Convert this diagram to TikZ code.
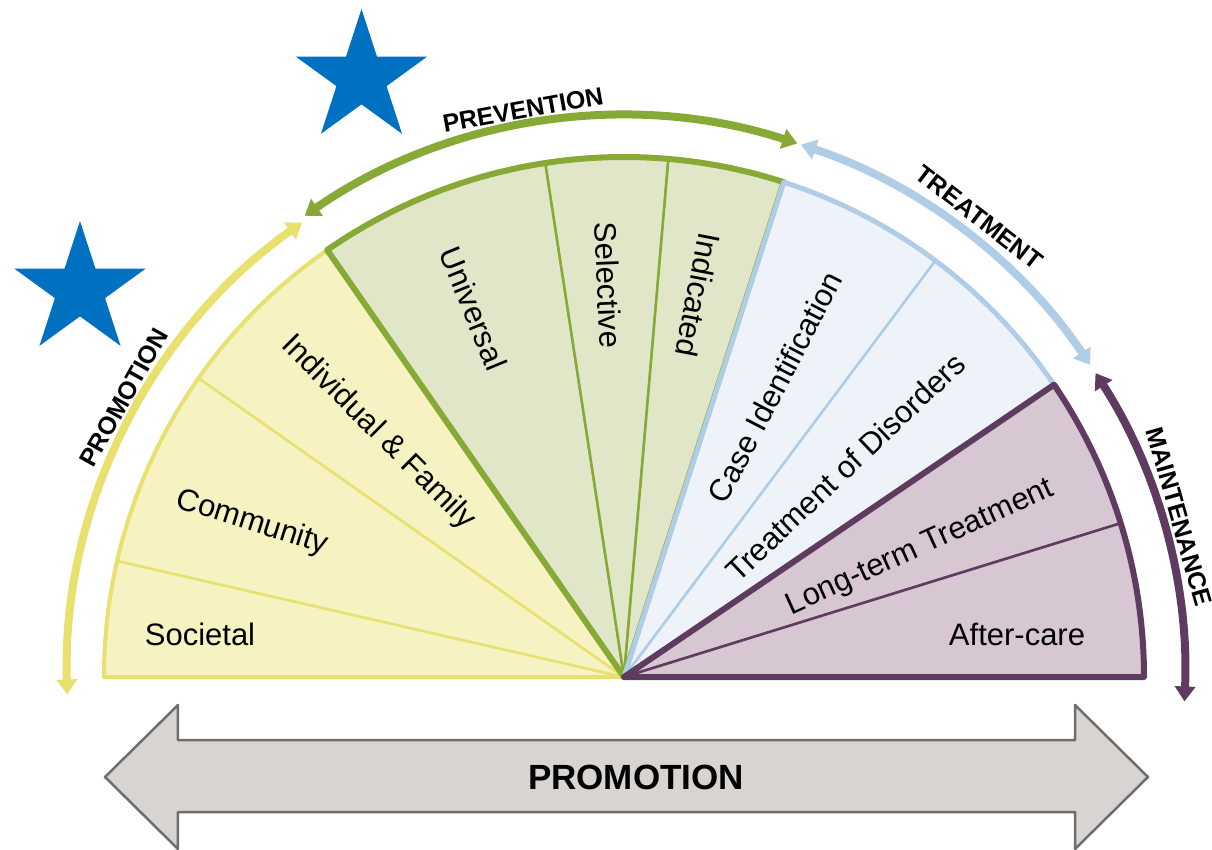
\documentclass[tikz,border=0pt]{standalone}
\usepackage{fontspec}
\setmainfont{Liberation Sans}
\usetikzlibrary{arrows.meta,shapes.geometric}

\definecolor{promofill}{HTML}{F6F2C2}
\definecolor{promoline}{HTML}{E8E16F}
\definecolor{prevfill}{HTML}{E2E6C9}
\definecolor{prevline}{HTML}{87A935}
\definecolor{treatfill}{HTML}{EDF3F8}
\definecolor{treatline}{HTML}{AFCDE7}
\definecolor{maintfill}{HTML}{D6C7D2}
\definecolor{maintline}{HTML}{5F3C5F}
\definecolor{starblue}{HTML}{0070C0}
\definecolor{bannerfill}{HTML}{D8D4D2}
\definecolor{bannerline}{HTML}{6E6E6E}

\begin{document}
\begin{tikzpicture}[
        x=1pt, y=1pt,
        >={Triangle[length=15pt,width=20pt]},
        wedge/.style={line width=2.5pt, line join=round},
        rim/.style={line width=5pt, line join=round},
        band/.style={line width=8pt, <->},
        lab/.style={font=\fontsize{31}{36}\selectfont, inner sep=0pt},
        bandlab/.style={font=\fontsize{25}{30}\selectfont\bfseries, inner sep=0pt},
        bigstar/.style={star, star points=5, star point ratio=2.618, fill=starblue, minimum size=138pt, inner sep=0pt}
    ]
        \useasboundingbox (-624,-172) rectangle (588,677);
        \coordinate (hub) at (0,0);

        % Quạt: các ô màu vàng, xanh lá, xanh dương, tím
        \foreach \a/\b in {180/167.1, 167.1/144.9, 144.9/124.8}
            \draw[wedge, draw=promoline, fill=promofill] (hub) -- (\a:520) arc[start angle=\a, end angle=\b, radius=520] -- cycle;
        \draw[rim, line width=4pt, promoline] (hub) -- (180:520) arc[start angle=180, end angle=124.8, radius=520] -- cycle;

        \foreach \a/\b in {124.8/98.7, 98.7/85.1, 85.1/72.1}
            \draw[wedge, draw=prevline, fill=prevfill] (hub) -- (\a:520) arc[start angle=\a, end angle=\b, radius=520] -- cycle;
        \draw[rim, line width=6pt, prevline] (hub) -- (124.8:520) arc[start angle=124.8, end angle=72.1, radius=520] -- cycle;

        \foreach \a/\b in {72.1/53.2, 53.2/34.2}
            \draw[wedge, draw=treatline, fill=treatfill] (hub) -- (\a:520) arc[start angle=\a, end angle=\b, radius=520] -- cycle;
        \draw[rim, treatline] (hub) -- (72.1:520) arc[start angle=72.1, end angle=34.2, radius=520] -- cycle;

        \foreach \a/\b in {34.2/17.2, 17.2/0}
            \draw[wedge, draw=maintline, fill=maintfill] (hub) -- (\a:520) arc[start angle=\a, end angle=\b, radius=520] -- cycle;
        \draw[rim, line width=6pt, maintline] (hub) -- (34.2:520) arc[start angle=34.2, end angle=0, radius=520] -- cycle;

        % Nhãn trong các ô
        \node[lab] (societal) at (-424,43) {Societal};
        \node[lab, rotate=-17.5] (community) at (-372,154) {Community};
        \node[lab, rotate=-45] (indfam) at (-246,244) {Individual \& Family};
        \node[lab, rotate=-67.8] (universal) at (112.2:398) {Universal};
        \node[lab, rotate=-87.7] (selective) at (92.3:392) {Selective};
        \node[lab, rotate=-101] (indicated) at (79:389) {Indicated};
        \node[lab, rotate=62.5] (caseid) at (62.5:327) {Case Identification};
        \node[lab, rotate=43.5] (disorders) at (43.5:305) {Treatment of Disorders};
        \node[lab, rotate=24.5] (longterm) at (23.5:323) {Long-term Treatment};
        \node[lab] (aftercare) at (393,43) {After-care};

        % Các cung mũi tên bên ngoài
        \draw[band, promoline] (181.8:557) arc[start angle=181.8, end angle=125.3, radius=557];
        \draw[band, prevline] (124.7:561) arc[start angle=124.7, end angle=72.0, radius=561];
        \draw[band, treatline] (71.6:561) arc[start angle=71.6, end angle=33.8, radius=561];
        \draw[band, maintline] (32.8:561) arc[start angle=32.8, end angle=-2.5, radius=561];

        \node[bandlab, rotate=60.8] (promotion) at (150.8:573) {PROMOTION};
        \node[bandlab, rotate=10.1] (prevention) at (100.1:576) {PREVENTION};
        \node[bandlab, rotate=-37.7] (treatment) at (52.3:581) {TREATMENT};
        \node[bandlab, rotate=-74] (maintenance) at (16.1:578) {MAINTENANCE};

        % Ngôi sao
        \node[bigstar] (star1) at (-262.5,599) {};
        \node[bigstar] (star2) at (-544,387) {};

        % Mũi tên hai đầu phía dưới
        \draw[line width=2.5pt, line join=round, draw=bannerline, fill=bannerfill]
            (-519,-100) -- (-446,-28) -- (-446,-63) -- (451,-63) -- (451,-28) -- (524,-100)
            -- (451,-172) -- (451,-135) -- (-446,-135) -- (-446,-172) -- cycle;
        \node[font=\fontsize{35}{40}\selectfont\bfseries, inner sep=0pt] (banner) at (12,-100) {PROMOTION};
    \end{tikzpicture}
\end{document}
